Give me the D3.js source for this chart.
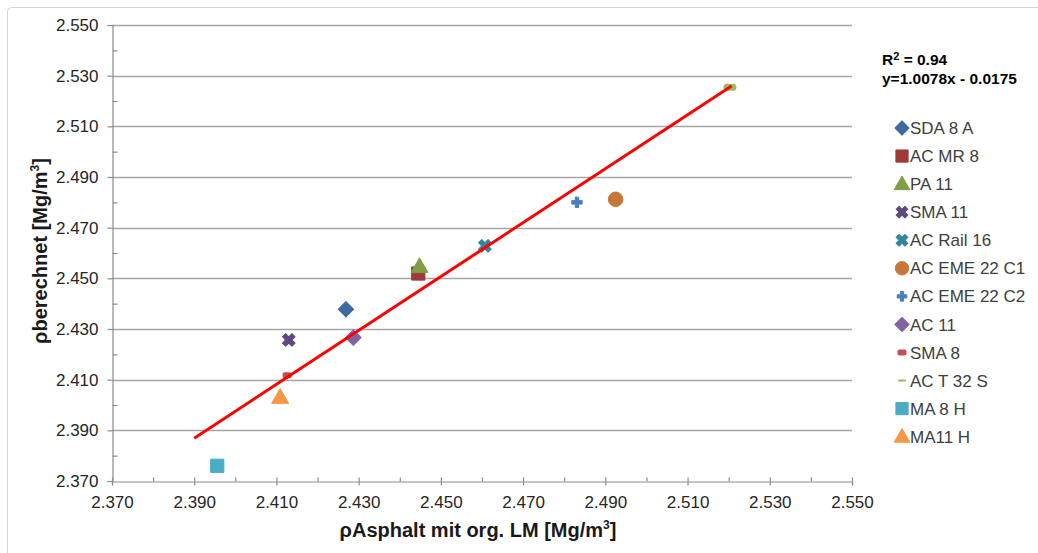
<!DOCTYPE html>
<html>
<head>
<meta charset="utf-8">
<script src="https://cdnjs.cloudflare.com/ajax/libs/d3/7.8.5/d3.min.js"></script>
<style>
  body { margin: 0; background: #fff; }
  svg { display: block; }
</style>
</head>
<body>
<div class="chart"></div>
<script>
// series, one point each
const seriesNames = ["SDA 8 A", "AC MR 8", "PA 11", "SMA 11", "AC Rail 16", "AC EME 22 C1",
  "AC EME 22 C2", "AC 11", "SMA 8", "AC T 32 S", "MA 8 H", "MA11 H"];
const xValues = [2.4269, 2.4445, 2.4448, 2.4130, 2.4607, 2.4925, 2.4831, 2.4287, 2.4126, 2.5203, 2.3956, 2.4109];
const yValues = [2.4378, 2.4519, 2.4546, 2.4257, 2.4628, 2.4812, 2.4800, 2.4266, 2.4117, 2.5254, 2.3760, 2.4030];
const markers = ["diamond", "square", "triangle", "x", "x", "circle", "plus", "diamond", "smallrect", "dash", "square", "triangle"];
const colors = ["#3d6aa0", "#9e3b39", "#7f9e45", "#5f4a7d", "#31859c", "#c8773a",
  "#4a7ebf", "#8064a2", "#c0504d", "#9bbb59", "#4bacc6", "#f79646"];

// trend line as drawn
const trendX = [2.390, 2.5207];
const trendY = [2.3869, 2.5259];

const tickValues = [2.370, 2.390, 2.410, 2.430, 2.450, 2.470, 2.490, 2.510, 2.530, 2.550];
const minorTicks = [2.380, 2.400, 2.420, 2.440, 2.460, 2.480, 2.500, 2.520, 2.540];

const width = 1038;
const height = 553;
const plotLeft = 112, plotRight = 852, plotTop = 25, plotBottom = 481;
const font = "Arial, 'Liberation Sans', sans-serif";

const svg = d3.select(".chart").append("svg")
  .attr("width", width)
  .attr("height", height);

// chart border
svg.append("rect")
  .attr("x", 7.5).attr("y", 7.5)
  .attr("width", 1100).attr("height", 600)
  .attr("rx", 4)
  .attr("fill", "none")
  .attr("stroke", "#d4d4d4")
  .attr("stroke-width", 1);

const x = d3.scaleLinear().domain([2.370, 2.550]).range([plotLeft, plotRight]);
const y = d3.scaleLinear().domain([2.370, 2.550]).range([plotBottom, plotTop]);

// horizontal gridlines
svg.append("g").selectAll("line")
  .data(tickValues.slice(1))
  .enter().append("line")
  .attr("x1", plotLeft).attr("x2", plotRight)
  .attr("y1", d => Math.round(y(d)) + 0.5)
  .attr("y2", d => Math.round(y(d)) + 0.5)
  .attr("stroke", "#a6a6a6")
  .attr("stroke-width", 1.3);

// y axis
svg.append("g")
  .attr("transform", "translate(" + (plotLeft + 0.5) + ",0)")
  .call(d3.axisLeft(y).tickValues(tickValues).tickSize(5).tickPadding(9).tickFormat(d3.format(".3f")));
svg.append("g")
  .attr("transform", "translate(" + (plotLeft + 0.5) + ",0)")
  .call(d3.axisRight(y).tickValues(minorTicks).tickSize(5).tickFormat(""))
  .select(".domain").remove();

// x axis
svg.append("g")
  .attr("transform", "translate(0," + (plotBottom + 0.5) + ")")
  .call(d3.axisBottom(x).tickValues(tickValues).tickSize(4).tickPadding(10).tickFormat(d3.format(".3f")));
svg.append("g")
  .attr("transform", "translate(0," + (plotBottom + 0.5) + ")")
  .call(d3.axisTop(x).tickValues(tickValues.concat(minorTicks)).tickSize(4).tickFormat(""))
  .select(".domain").remove();

svg.selectAll(".domain, .tick line")
  .attr("stroke", "#8c8c8c")
  .attr("stroke-width", 1.2);
svg.selectAll(".tick text")
  .style("font-family", font)
  .style("font-size", "17px")
  .attr("fill", "#262626");

// axis titles
svg.append("text")
  .attr("x", 478).attr("y", 537)
  .attr("text-anchor", "middle")
  .style("font-family", font)
  .style("font-size", "20px")
  .style("font-weight", "bold")
  .attr("fill", "#1a1a1a")
  .html("ρAsphalt mit org. LM [Mg/m<tspan dy='-8' font-size='12px'>3</tspan><tspan dy='8'>]</tspan>");

svg.append("text")
  .attr("transform", "translate(47,251) rotate(-90)")
  .attr("text-anchor", "middle")
  .style("font-family", font)
  .style("font-size", "20px")
  .style("font-weight", "bold")
  .attr("fill", "#1a1a1a")
  .html("ρberechnet [Mg/m<tspan dy='-8' font-size='12px'>3</tspan><tspan dy='8'>]</tspan>");

// marker shapes
function markerPath(type, scale) {
  const s = scale || 1;
  if (type === "diamond") return d3.symbol(d3.symbolSquare, 120 * s)();
  if (type === "square") return d3.symbol(d3.symbolSquare, 175 * s)();
  if (type === "triangle") return d3.symbol(d3.symbolTriangle, 125 * s)();
  if (type === "x") return d3.symbol(d3.symbolCross, 100 * s)();
  if (type === "circle") return d3.symbol(d3.symbolCircle, 165 * s)();
  if (type === "plus") return d3.symbol(d3.symbolCross, 60 * s)();
  return null;
}

function drawMarker(g, type, color, scale) {
  const p = markerPath(type, scale);
  if (p) {
    g.append("path")
      .attr("d", p)
      .attr("fill", color)
      .attr("stroke", color)
      .attr("stroke-width", 1)
      .attr("stroke-linejoin", "round")
      .attr("transform", (type === "diamond" || type === "x") ? "rotate(45)" : (type === "triangle" ? "translate(0,1)" : null));
  } else if (type === "smallrect") {
    g.append("rect")
      .attr("x", -4.5).attr("y", -3).attr("width", 9).attr("height", 6)
      .attr("rx", 2)
      .attr("fill", color);
  } else if (type === "dash") {
    const w = scale ? 8 : 13, h = scale ? 2 : 7;
    g.append("rect")
      .attr("x", -w / 2).attr("y", -h / 2).attr("width", w).attr("height", h)
      .attr("rx", h / 2)
      .attr("fill", color);
  }
}

// points
const points = svg.append("g").selectAll("g")
  .data(seriesNames)
  .enter().append("g")
  .attr("transform", (d, i) => "translate(" + x(xValues[i]) + "," + y(yValues[i]) + ")");
points.each(function(d, i) {
  drawMarker(d3.select(this), markers[i], colors[i]);
});

// trend line
svg.append("line")
  .attr("x1", x(trendX[0])).attr("y1", y(trendY[0]))
  .attr("x2", x(trendX[1])).attr("y2", y(trendY[1]))
  .attr("stroke", "#ff0000")
  .attr("stroke-width", 3);

// equation
svg.append("text")
  .attr("x", 882).attr("y", 65)
  .style("font-family", font)
  .style("font-size", "15.5px")
  .style("font-weight", "bold")
  .attr("fill", "#000")
  .html("R<tspan font-size='11px' dy='-5'>2</tspan><tspan dy='5'> = 0.94</tspan>");
svg.append("text")
  .attr("x", 882).attr("y", 84)
  .style("font-family", font)
  .style("font-size", "15.5px")
  .style("font-weight", "bold")
  .attr("fill", "#000")
  .text("y=1.0078x - 0.0175");

// legend
const legend = svg.append("g").selectAll("g")
  .data(seriesNames)
  .enter().append("g")
  .attr("transform", (d, i) => "translate(902," + (128 + i * 28.06) + ")");
legend.each(function(d, i) {
  const sc = (markers[i] === "dash") ? 0.7 : 0.85;
  drawMarker(d3.select(this), markers[i], colors[i], sc);
});
legend.append("text")
  .attr("x", 8)
  .attr("dy", "0.36em")
  .style("font-family", font)
  .style("font-size", "17px")
  .attr("fill", "#404040")
  .text(d => d);
</script>
</body>
</html>
